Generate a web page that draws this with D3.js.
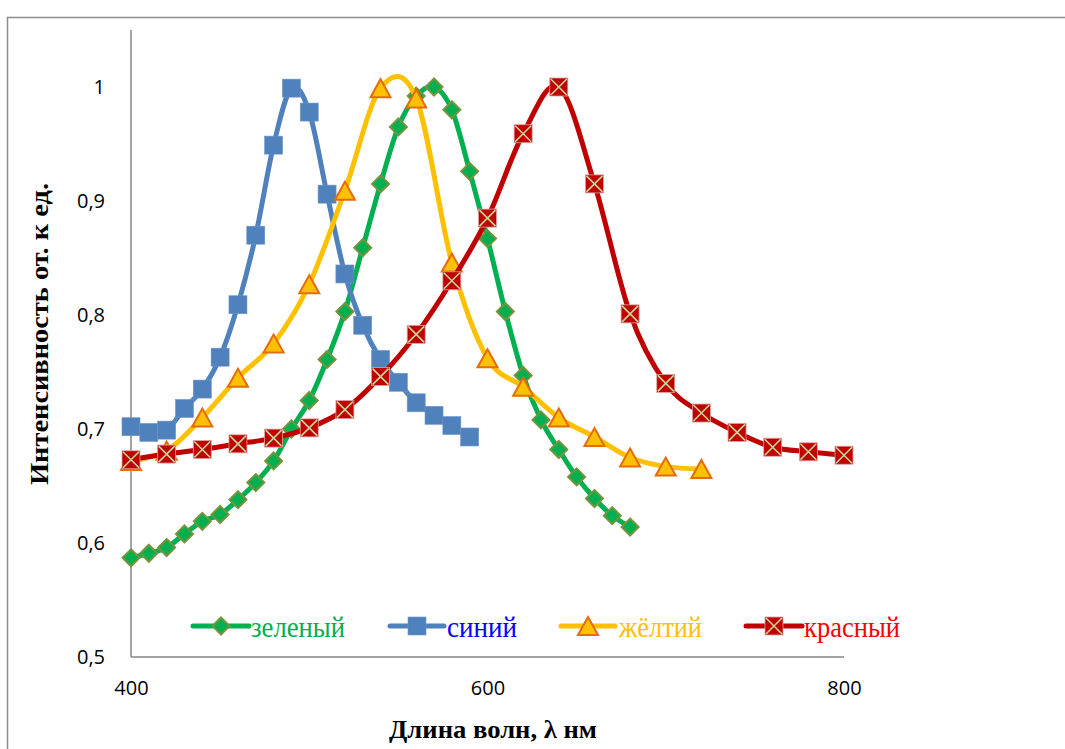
<!DOCTYPE html>
<html>
<head>
<meta charset="utf-8">
<script src="https://cdn.jsdelivr.net/npm/d3@7"></script>
<style>
  html, body { margin: 0; padding: 0; background: #fff; }
  svg { display: block; }
</style>
</head>
<body>
<svg id="chart" width="1065" height="749"></svg>
<script>
// Wavelength grids (nm) and normalised intensities for each colour
const greenX = [400,410,420,430,440,450,460,470,480,490,500,510,520,530,540,550,560,570,580,590,600,610,620,630,640,650,660,670,680];
const greenY = [0.587,0.591,0.596,0.608,0.619,0.625,0.638,0.653,0.672,0.700,0.725,0.761,0.803,0.859,0.915,0.965,0.992,1.000,0.980,0.926,0.867,0.803,0.747,0.708,0.682,0.658,0.639,0.624,0.614];

const blueX = [400,410,420,430,440,450,460,470,480,490,500,510,520,530,540,550,560,570,580,590];
const blueY = [0.702,0.697,0.699,0.718,0.735,0.763,0.809,0.870,0.949,0.999,0.978,0.906,0.836,0.791,0.761,0.741,0.723,0.712,0.703,0.693];

const yellowX = [400,420,440,460,480,500,520,540,560,580,600,620,640,660,680,700,720];
const yellowY = [0.672,0.681,0.710,0.745,0.775,0.827,0.909,0.999,0.990,0.846,0.762,0.737,0.710,0.693,0.675,0.667,0.665];

const redX = [400,420,440,460,480,500,520,540,560,580,600,620,640,660,680,700,720,740,760,780,800];
const redY = [0.673,0.678,0.682,0.687,0.692,0.701,0.717,0.746,0.783,0.830,0.885,0.959,1.000,0.915,0.801,0.740,0.714,0.697,0.684,0.680,0.677];

const seriesNames = ["зеленый", "синий", "жёлтий", "красный"];
const xTicks = [400, 600, 800];
const yTicks = [0.5, 0.6, 0.7, 0.8, 0.9, 1.0];
const xTitle = "Длина волн, λ нм";
const yTitle = "Интенсивность от. к ед.";

const svg = d3.select("#chart");

// outer chart frame
svg.append("rect")
  .attr("x", 7.5).attr("y", 17.5)
  .attr("width", 1100).attr("height", 800)
  .attr("fill", "none").attr("stroke", "#8c8c8c").attr("stroke-width", 1.5);

const x = d3.scaleLinear().domain([400, 800]).range([131, 844]);
const y = d3.scaleLinear().domain([0.5, 1.05]).range([657, 30]);

// axes
const yAxis = svg.append("g")
  .attr("transform", "translate(131,0)")
  .call(d3.axisLeft(y).tickValues(yTicks).tickSize(0).tickPadding(26)
    .tickFormat(d => d3.format("~g")(d).replace(".", ",")));
yAxis.select(".domain").remove();
yAxis.selectAll("text")
  .attr("font-family", "'Open Sans', sans-serif").attr("font-size", 20).attr("fill", "#000");

const xAxis = svg.append("g")
  .attr("transform", "translate(0,657)")
  .call(d3.axisBottom(x).tickValues(xTicks).tickSize(0).tickPadding(24)
    .tickFormat(d3.format("d")));
xAxis.select(".domain").remove();
xAxis.selectAll("text")
  .attr("font-family", "'Open Sans', sans-serif").attr("font-size", 20).attr("fill", "#000");

svg.append("line")
  .attr("x1", 131).attr("x2", 131).attr("y1", y(1.05)).attr("y2", y(0.5))
  .attr("stroke", "#868686").attr("stroke-width", 1.5);
svg.append("line")
  .attr("x1", x(400)).attr("x2", x(800)).attr("y1", y(0.5)).attr("y2", y(0.5))
  .attr("stroke", "#868686").attr("stroke-width", 1.5);

// axis titles
svg.append("text")
  .attr("x", 493).attr("y", 738)
  .attr("text-anchor", "middle")
  .attr("font-family", "'Liberation Serif', serif").attr("font-weight", "bold")
  .attr("font-size", 25)
  .attr("textLength", 208).attr("lengthAdjust", "spacingAndGlyphs")
  .text(xTitle);

svg.append("text")
  .attr("transform", "translate(48,334) rotate(-90)")
  .attr("text-anchor", "middle")
  .attr("font-family", "'Liberation Serif', serif").attr("font-weight", "bold")
  .attr("font-size", 25)
  .attr("textLength", 302).attr("lengthAdjust", "spacingAndGlyphs")
  .text(yTitle);

// marker painters
function diamond(g, cx, cy) {
  const r = 8.5;
  g.append("path")
    .attr("d", `M${cx},${cy - r}L${cx + r},${cy}L${cx},${cy + r}L${cx - r},${cy}Z`)
    .attr("fill", "#00b050").attr("stroke", "#77933c").attr("stroke-width", 2);
}
function square(g, cx, cy) {
  const s = 18;
  g.append("rect")
    .attr("x", cx - s / 2).attr("y", cy - s / 2).attr("width", s).attr("height", s)
    .attr("fill", "#4f81bd").attr("stroke", "#6f95c9").attr("stroke-width", 0.6);
}
function triangle(g, cx, cy) {
  const w = 10, h = 9;
  g.append("path")
    .attr("d", `M${cx},${cy - h}L${cx + w},${cy + h}L${cx - w},${cy + h}Z`)
    .attr("fill", "#ffc000").attr("stroke", "#e46c0a").attr("stroke-width", 2)
    .attr("stroke-linejoin", "miter");
}
function crossed(g, cx, cy) {
  const s = 18, h = s / 2;
  g.append("rect")
    .attr("x", cx - h).attr("y", cy - h).attr("width", s).attr("height", s)
    .attr("fill", "#c00000").attr("stroke", "#e0a0a0").attr("stroke-width", 0.8);
  g.append("path")
    .attr("d", `M${cx - h + 1},${cy - h + 1}L${cx + h - 1},${cy + h - 1}M${cx + h - 1},${cy - h + 1}L${cx - h + 1},${cy + h - 1}`)
    .attr("stroke", "#c3d69b").attr("stroke-width", 1.6).attr("fill", "none");
}

const series = [
  { name: seriesNames[0], xs: greenX, ys: greenY, line: "#00b050", text: "#00b050", marker: diamond },
  { name: seriesNames[1], xs: blueX, ys: blueY, line: "#4f81bd", text: "#0000ff", marker: square },
  { name: seriesNames[2], xs: yellowX, ys: yellowY, line: "#ffc000", text: "#ffc000", marker: triangle },
  { name: seriesNames[3], xs: redX, ys: redY, line: "#c00000", text: "#ff0000", marker: crossed }
];

const line = d3.line()
  .x(d => x(d[0])).y(d => y(d[1]))
  .curve(d3.curveCardinal.tension(0));

series.forEach(s => {
  const pts = s.xs.map((v, i) => [v, s.ys[i]]);
  const g = svg.append("g");
  g.append("path")
    .attr("d", line(pts))
    .attr("fill", "none").attr("stroke", s.line).attr("stroke-width", 5)
    .attr("stroke-linejoin", "round").attr("stroke-linecap", "round");
  pts.forEach(p => s.marker(g, x(p[0]), y(p[1])));
});

// legend
const legendItems = [
  { x0: 193, x1: 249, tx: 251, tw: 94 },
  { x0: 390, x1: 444, tx: 447, tw: 70 },
  { x0: 561, x1: 615, tx: 619, tw: 83 },
  { x0: 746, x1: 802, tx: 804, tw: 96 }
];
const ly = 626;
series.forEach((s, i) => {
  const it = legendItems[i];
  const g = svg.append("g");
  g.append("line")
    .attr("x1", it.x0).attr("x2", it.x1).attr("y1", ly).attr("y2", ly)
    .attr("stroke", s.line).attr("stroke-width", 5).attr("stroke-linecap", "round");
  s.marker(g, (it.x0 + it.x1) / 2, ly);
  g.append("text")
    .attr("x", it.tx).attr("y", ly + 11)
    .attr("font-family", "'Liberation Serif', serif").attr("font-size", 30)
    .attr("fill", s.text)
    .attr("textLength", it.tw).attr("lengthAdjust", "spacingAndGlyphs")
    .text(s.name);
});
</script>
</body>
</html>
